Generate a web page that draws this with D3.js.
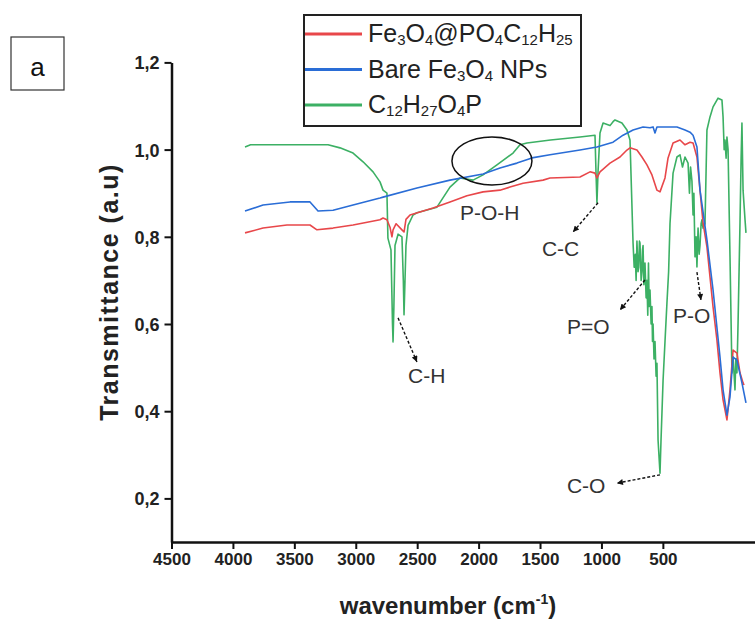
<!DOCTYPE html>
<html>
<head>
<meta charset="utf-8"/>
<script src="https://d3js.org/d3.v7.min.js"></script>
<style>
  body { margin: 0; background: #fff; }
  text { font-family: "Liberation Sans", Arial, sans-serif; }
</style>
</head>
<body>
<svg id="chart" width="755" height="625"></svg>
<script>
// ---- data: [wavenumber (cm-1), transmittance] ----
var ligand = [ // C12H27O4P (green)
  [4000,1.006],[3960,1.011],[3700,1.011],[3402,1.011],[3316,1.004],[3222,0.992],[3150,0.972],
  [3078,0.949],[3028,0.926],[3006,0.907],[2978,0.900],[2971,0.797],[2949,0.770],[2938,0.600],
  [2934,0.559],[2928,0.640],[2920,0.780],[2898,0.806],[2870,0.800],[2860,0.700],[2855,0.621],
  [2848,0.700],[2841,0.780],[2826,0.826],[2790,0.850],[2762,0.855],[2618,0.868],[2524,0.914],
  [2452,0.935],[2358,0.930],[2286,0.942],[2186,0.965],[2070,0.992],[2020,1.011],[1970,1.015],
  [1800,1.022],[1588,1.029],[1480,1.033],[1473,0.950],[1466,0.878],[1458,0.950],[1444,1.038],
  [1422,1.061],[1372,1.055],[1350,1.064],[1336,1.068],[1286,1.061],[1250,1.045],[1228,1.022],
  [1206,0.786],[1198,0.730],[1190,0.760],[1184,0.700],[1178,0.790],[1170,0.720],[1165,0.730],
  [1160,0.790],[1156,0.786],[1148,0.700],[1142,0.720],[1138,0.770],[1134,0.780],[1128,0.690],
  [1120,0.740],[1112,0.660],[1106,0.700],[1100,0.620],[1095,0.740],[1090,0.640],[1084,0.678],
  [1076,0.600],[1070,0.640],[1066,0.560],[1062,0.600],[1055,0.520],[1048,0.560],[1040,0.480],
  [1034,0.510],[1026,0.334],[1012,0.258],[1005,0.330],[990,0.470],[976,0.560],[962,0.648],
  [950,0.720],[940,0.830],[918,0.946],[890,0.983],[868,0.988],[850,0.960],[832,0.983],
  [810,0.969],[800,0.900],[792,0.960],[782,0.928],[774,0.850],[768,0.900],[760,0.754],
  [752,0.800],[746,0.731],[738,0.820],[730,0.760],[724,0.780],[716,0.830],[710,0.839],
  [702,0.820],[688,0.830],[674,1.045],[652,1.075],[630,1.098],[594,1.118],[566,1.114],
  [558,1.075],[550,1.000],[544,1.022],[536,0.980],[530,1.029],[522,1.000],[508,0.754],
  [494,0.488],[486,0.524],[472,0.449],[466,0.520],[458,0.488],[450,0.602],[436,0.832],
  [428,0.980],[422,1.061],[414,0.907],[400,0.840],[393,0.809]
];
var coated = [ // Fe3O4@PO4C12H25 (red)
  [4000,0.809],[3870,0.820],[3698,0.827],[3532,0.827],[3482,0.816],[3366,0.820],[3222,0.827],
  [3028,0.839],[3006,0.843],[2978,0.839],[2956,0.822],[2942,0.800],[2934,0.816],[2912,0.830],
  [2870,0.816],[2855,0.811],[2841,0.840],[2812,0.850],[2646,0.866],[2524,0.880],[2402,0.894],
  [2286,0.903],[2164,0.907],[2092,0.914],[1998,0.923],[1854,0.930],[1804,0.935],[1588,0.937],
  [1516,0.949],[1480,0.946],[1466,0.935],[1444,0.949],[1372,0.969],[1300,0.983],[1250,0.999],
  [1228,1.004],[1178,0.999],[1142,0.983],[1106,0.965],[1070,0.942],[1034,0.907],[1012,0.903],
  [976,0.935],[954,0.981],[918,1.015],[868,1.022],[832,1.011],[796,1.017],[774,1.015],
  [746,0.983],[724,0.907],[702,0.832],[674,0.777],[652,0.708],[630,0.639],[602,0.563],
  [580,0.488],[558,0.426],[530,0.380],[508,0.449],[486,0.540],[458,0.533],[436,0.488],
  [414,0.465],[407,0.460]
];
var bare = [ // Bare Fe3O4 NPs (blue)
  [4000,0.859],[3870,0.873],[3676,0.880],[3532,0.880],[3474,0.859],[3366,0.861],[3222,0.873],
  [3028,0.889],[3006,0.891],[2762,0.912],[2524,0.930],[2286,0.944],[2164,0.958],[2042,0.969],
  [1934,0.981],[1804,0.988],[1588,0.999],[1466,1.006],[1350,1.017],[1278,1.033],[1206,1.045],
  [1134,1.052],[1084,1.050],[1062,1.052],[1048,1.038],[1034,1.052],[940,1.052],[890,1.052],
  [832,1.045],[796,1.040],[774,1.033],[746,1.006],[724,0.907],[674,0.793],[630,0.678],
  [580,0.524],[558,0.449],[530,0.391],[508,0.433],[486,0.524],[458,0.517],[422,0.465],
  [393,0.419]
];

var seriesNames = ["Fe3O4@PO4C12H25", "Bare Fe3O4 NPs", "C12H27O4P"];
var xTicks = [4500, 4000, 3500, 3000, 2500, 2000, 1500, 1000, 500];
var xMinor = [4250, 3750, 3250, 2750, 2250, 1750, 1250, 750];
var yTicks = [0.2, 0.4, 0.6, 0.8, 1.0, 1.2];
var yMinor = [0.3, 0.5, 0.7, 0.9, 1.1];

// band labels: text anchor and arrow [from, to], all in [wavenumber, transmittance]
var bands = [
  {label: "C-H", text: [2826, 0.465], from: [2898, 0.614], to: [2762, 0.513]},
  {label: "C-C", text: [1862, 0.756], from: [1458, 0.878], to: [1638, 0.811]},
  {label: "P=O", text: [1682, 0.577], from: [1120, 0.701], to: [1300, 0.632]},
  {label: "P-O", text: [918, 0.602],  from: [746, 0.719],  to: [717, 0.655]},
  {label: "C-O", text: [1682, 0.212], from: [1012, 0.254], to: [1322, 0.235]},
  {label: "P-O-H", text: [2452, 0.839]}
];
var pohCircle = [2222, 0.974];

var colors = ["#e8474a", "#2a6dd6", "#3cb064"];

var svg = d3.select("#chart");

var y = d3.scaleLinear().domain([0.1, 1.2]).range([542, 62.4]);
// the printed wavenumber axis and the plotted spectra do not share one scale in the figure
var xAxisScale = d3.scaleLinear().domain([4500, -250]).range([171.5, 755]);
var x = d3.scaleLinear().domain([4000, 400]).range([245, 745]);

// spectra
var line = d3.line().x(function(d) { return x(d[0]); }).y(function(d) { return y(d[1]); });
[[ligand, colors[2]], [coated, colors[0]], [bare, colors[1]]].forEach(function(s) {
  svg.append("path").datum(s[0])
    .attr("d", line)
    .attr("fill", "none")
    .attr("stroke", s[1])
    .attr("stroke-width", 1.6)
    .attr("stroke-linejoin", "round");
});

// axes
var gx = svg.append("g").attr("transform", "translate(0,542)");
gx.call(d3.axisBottom(xAxisScale).tickValues(xMinor).tickSize(4).tickSizeOuter(0).tickFormat(""));
gx.call(d3.axisBottom(xAxisScale).tickValues(xTicks).tickSize(7).tickSizeOuter(0).tickFormat(d3.format("d")));
gx.select(".domain").attr("stroke-width", 2.5).attr("stroke", "#111");
gx.selectAll(".tick line").attr("stroke-width", 2).attr("stroke", "#111");
gx.selectAll(".tick text")
  .attr("y", 23).attr("dy", 0)
  .attr("font-size", 17).attr("font-weight", "bold")
  .attr("fill", "#222").attr("font-family", "Liberation Sans, Arial, sans-serif");

var gy = svg.append("g").attr("transform", "translate(171.5,0)");
gy.call(d3.axisLeft(y).tickValues(yMinor).tickSize(4).tickSizeOuter(0).tickFormat(""));
gy.call(d3.axisLeft(y).tickValues(yTicks).tickSize(7).tickSizeOuter(0)
  .tickFormat(function(d) { return d.toFixed(1).replace(".", ","); }));
gy.select(".domain").attr("stroke-width", 2.5).attr("stroke", "#111");
gy.selectAll(".tick line").attr("stroke-width", 2).attr("stroke", "#111");
gy.selectAll(".tick text")
  .attr("x", -12).attr("dy", "0.36em")
  .attr("font-size", 18).attr("font-weight", "bold")
  .attr("fill", "#222").attr("font-family", "Liberation Sans, Arial, sans-serif");

// axis titles
svg.append("text")
  .attr("transform", "translate(118,292) rotate(-90)")
  .attr("text-anchor", "middle")
  .attr("font-size", 25).attr("font-weight", "bold").attr("fill", "#222")
  .attr("letter-spacing", 1.5)
  .text("Transmittance (a.u)");

var xt = svg.append("text")
  .attr("x", 448).attr("y", 614)
  .attr("text-anchor", "middle")
  .attr("font-size", 24).attr("font-weight", "bold").attr("fill", "#222");
xt.append("tspan").text("wavenumber (cm");
xt.append("tspan").attr("font-size", 14).attr("dy", -10).text("-1");
xt.append("tspan").attr("dy", 10).text(")");

// legend
var legend = svg.append("g");
legend.append("rect")
  .attr("x", 304).attr("y", 15).attr("width", 277).attr("height", 111)
  .attr("fill", "none").attr("stroke", "#222").attr("stroke-width", 2);
seriesNames.forEach(function(name, i) {
  var ly = 34 + i * 35.5;
  legend.append("line")
    .attr("x1", 305).attr("x2", 362).attr("y1", ly).attr("y2", ly)
    .attr("stroke", colors[i]).attr("stroke-width", 3);
  var t = legend.append("text")
    .attr("x", 368).attr("y", ly + 8)
    .attr("font-size", 25).attr("fill", "#222");
  // every digit in these formulas is a subscript
  name.split(/(\d+)/).forEach(function(part, j) {
    if (!part) return;
    if (j % 2 === 1) {
      t.append("tspan").attr("font-size", 15).attr("dy", 3).text(part);
    } else {
      t.append("tspan").attr("dy", j > 0 ? -3 : 0).text(part);
    }
  });
});

// band annotations
svg.append("defs").append("marker")
  .attr("id", "head").attr("viewBox", "0 0 10 10")
  .attr("refX", 10).attr("refY", 5)
  .attr("markerUnits", "userSpaceOnUse")
  .attr("markerWidth", 9).attr("markerHeight", 6)
  .attr("orient", "auto")
  .append("path").attr("d", "M0,0L10,5L0,10Z").attr("fill", "#111");

bands.forEach(function(b) {
  if (b.from) {
    svg.append("line")
      .attr("x1", x(b.from[0])).attr("y1", y(b.from[1]))
      .attr("x2", x(b.to[0])).attr("y2", y(b.to[1]))
      .attr("stroke", "#111").attr("stroke-width", 1.4)
      .attr("stroke-dasharray", "3,2")
      .attr("marker-end", "url(#head)");
  }
  svg.append("text")
    .attr("x", x(b.text[0])).attr("y", y(b.text[1]))
    .attr("font-size", 21).attr("fill", "#333")
    .text(b.label);
});

svg.append("ellipse")
  .attr("cx", x(pohCircle[0])).attr("cy", y(pohCircle[1]))
  .attr("rx", 40).attr("ry", 24)
  .attr("fill", "none").attr("stroke", "#111").attr("stroke-width", 1.5);

// panel letter
svg.append("rect")
  .attr("x", 11).attr("y", 37).attr("width", 53).attr("height", 53)
  .attr("fill", "none").attr("stroke", "#333").attr("stroke-width", 1.2);
svg.append("text")
  .attr("x", 37.5).attr("y", 76)
  .attr("text-anchor", "middle")
  .attr("font-family", "Open Sans, sans-serif")
  .attr("font-size", 26).attr("fill", "#111")
  .text("a");
</script>
</body>
</html>
